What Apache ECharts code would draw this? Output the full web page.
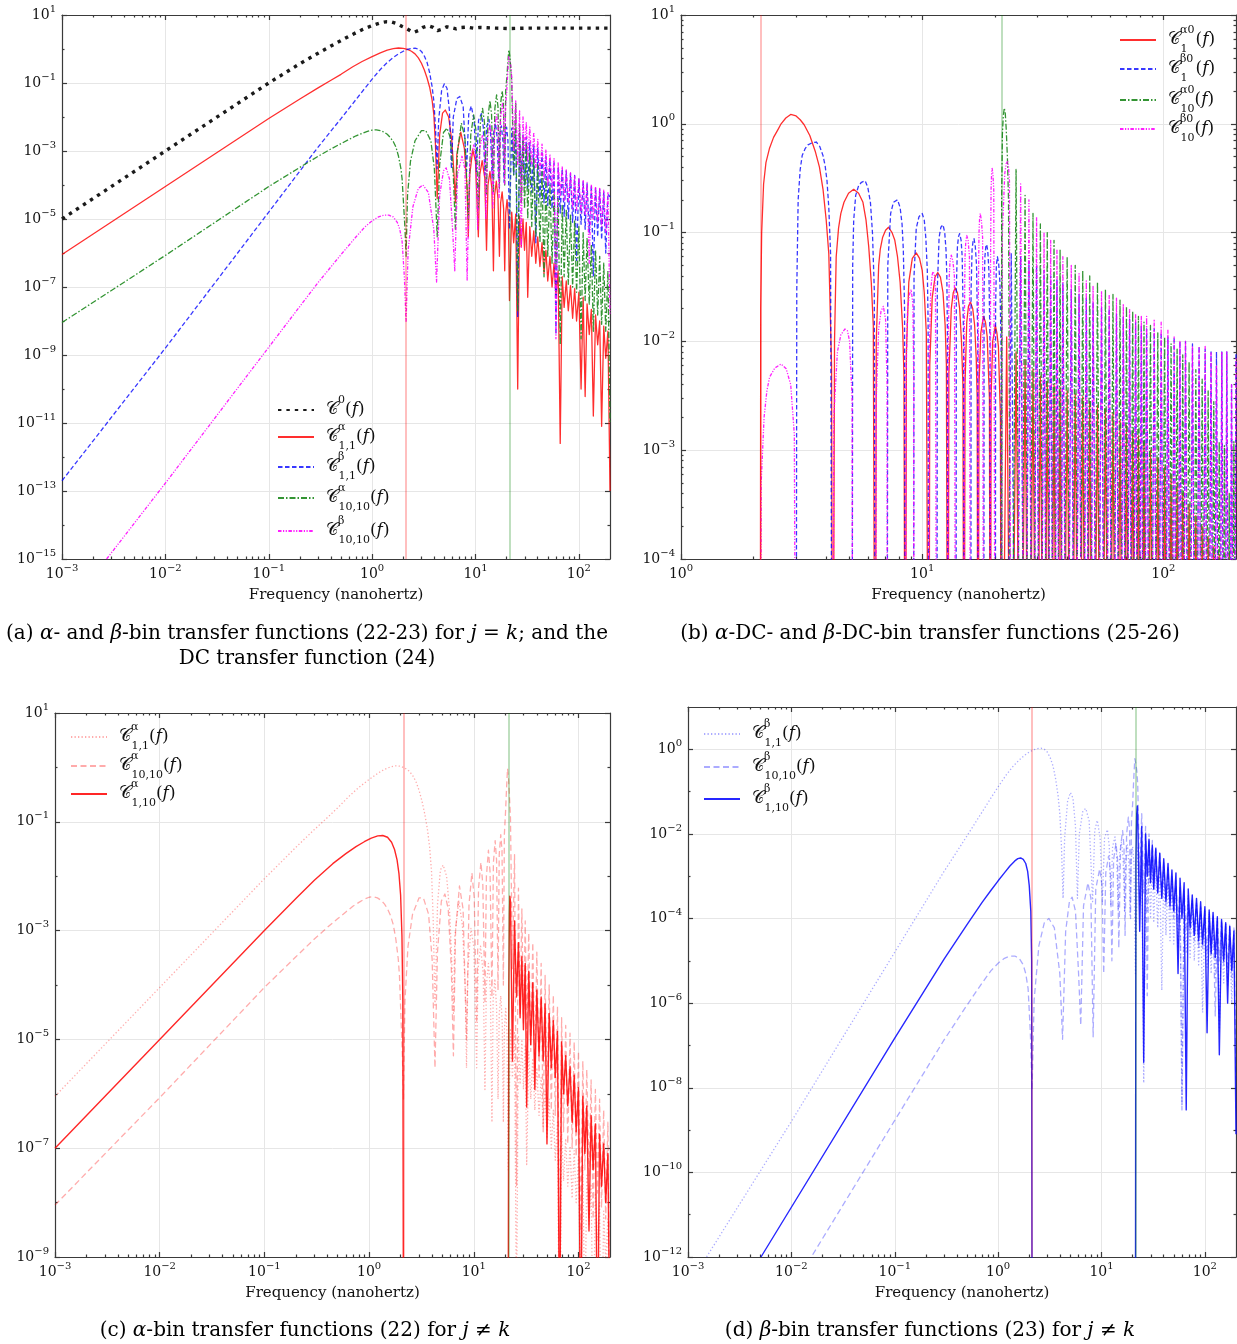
<!DOCTYPE html>
<html><head><meta charset="utf-8"><title>Transfer functions</title>
<script src="https://cdn.jsdelivr.net/npm/echarts@6.0.0/dist/echarts.min.js"></script>
<style>html,body{margin:0;padding:0;background:#fff;}#chart{width:1237px;height:1344px;}</style>
</head><body><div id="chart"></div><script>
// ---------------- DATA (frequency in nHz, value) ----------------
const binF = [2.13, 21.3];               // vertical reference lines
const ZERO = 1e-7;                        // "vanishing" value, below the axis

// Panel (a): DC transfer function
const C0 = [[1e-3,1e-5],[1e-2,1e-3],[0.1,0.1],[0.2,0.37],[0.3,0.75],[0.45,1.5],[0.6,2.4],[0.8,3.7],[1.0,4.9],[1.2,5.9],[1.36,6.3],[1.55,6.2],[1.75,5.5],[1.95,4.6],[2.15,4.0],[2.35,3.4],[2.55,3.1],[2.8,3.5],[3.1,4.3],[3.5,4.8],[3.9,4.3],[4.3,3.5],[4.7,3.8],[5.3,4.5],[5.9,4.2],[6.5,3.9],[7.3,4.3],[8.2,4.4],[9.5,4.1],[11,4.3],[13,4.2],[16,4.1],[21.3,4.0],[30,4.1],[60,4.1],[200,4.1]];

// Panel (a): low-frequency heads and first lobes of each curve
const a11Head = [[1e-3,9e-7],[1e-2,9e-5],[0.1,9e-3],[0.2,0.034],[0.3,0.072],[0.4,0.12],[0.5,0.18],[0.65,0.3],[0.8,0.43],[1.0,0.6],[1.2,0.77],[1.4,0.92],[1.6,1.02],[1.8,1.07],[2.0,1.05],[2.2,0.97],[2.4,0.86],[2.6,0.72],[2.8,0.55],[3.0,0.38],[3.2,0.24],[3.4,0.14],[3.6,0.075],[3.8,0.032],[3.95,0.012],[4.1,1.5e-3]];
const a11Mid = [[4.26,4e-5],[4.5,3e-3],[4.8,0.013],[5.1,0.016],[5.5,0.01],[5.9,2e-3],[6.2,2e-4],[6.39,3e-5],[6.6,8e-4],[7.2,3.6e-3],[7.8,1.2e-3],[8.3,8e-5],[8.52,3e-6],[8.8,2e-4],[9.4,1.1e-3],[10.0,5e-4],[10.65,3e-6],[11.0,2e-4],[11.6,5.2e-4],[12.3,1.6e-4],[12.78,1.2e-6],[13.2,1e-4],[13.8,2.5e-4],[14.4,8e-5],[14.91,3e-7],[15.3,5e-5],[15.9,1.3e-4],[16.5,4e-5],[17.04,8e-7],[17.5,3e-5],[18.1,6.3e-5],[18.7,2e-5],[19.17,3e-7],[19.6,1.5e-5],[20.2,3.7e-5],[20.8,1.2e-5],[21.3,4e-8]];
const b11Head = [[1e-3,2e-13],[1e-2,1.6e-9],[0.1,1.6e-5],[0.3,1.3e-3],[0.5,9e-3],[0.7,0.033],[0.85,0.07],[1.0,0.13],[1.2,0.25],[1.4,0.4],[1.6,0.56],[1.8,0.72],[2.0,0.86],[2.2,0.97],[2.4,1.04],[2.6,1.06],[2.8,1.0],[3.0,0.85],[3.2,0.62],[3.4,0.4],[3.6,0.2],[3.8,0.08],[3.95,0.03],[4.1,5e-3]];
const b11Mid = [[4.25,3e-4],[4.4,8e-3],[4.7,0.06],[5.0,0.095],[5.3,0.07],[5.6,0.015],[5.85,3e-4],[6.1,0.01],[6.6,0.035],[7.05,0.04],[7.6,0.02],[8.2,2.5e-4],[8.6,0.012],[9.1,0.021],[9.7,8e-3],[10.2,2.5e-4],[10.7,8e-3],[11.4,0.0126],[11.9,5e-3],[12.3,2e-4],[12.8,5e-3],[13.5,8.5e-3],[14.0,3e-3],[14.5,1.5e-4],[15.0,3.5e-3],[15.6,6.6e-3],[16.2,2.5e-3],[16.7,1.5e-4],[17.2,3e-3],[17.8,5.5e-3],[18.4,2e-3],[18.9,1.2e-4],[19.4,2.5e-3],[20.0,5e-3],[20.6,2e-3],[21.3,5e-6]];
const a1010Head = [[1e-3,9e-9],[1e-2,8.5e-7],[0.1,9e-5],[0.2,3.3e-4],[0.3,7e-4],[0.4,1.15e-3],[0.5,1.65e-3],[0.6,2.2e-3],[0.7,2.8e-3],[0.8,3.3e-3],[0.9,3.8e-3],[1.0,4.1e-3],[1.1,4.2e-3],[1.2,4.0e-3],[1.3,3.6e-3],[1.4,3.1e-3],[1.5,2.5e-3],[1.6,1.9e-3],[1.7,1.3e-3],[1.8,7e-4],[1.9,3e-4],[1.95,1.5e-4]];
const a1010Mid = [[2.08,5e-6],[2.13,8e-7],[2.2,5e-5],[2.35,5e-4],[2.6,2e-3],[3.0,4e-3],[3.3,4e-3],[3.7,2e-3],[4.0,3e-4],[4.26,3e-6],[4.5,4e-4],[4.9,3.5e-3],[5.3,4.7e-3],[5.7,2.5e-3],[6.1,2e-4],[6.39,5e-6],[6.7,1e-3],[7.3,6.6e-3],[7.9,2.5e-3],[8.52,1e-5],[9.0,3e-3],[9.6,0.0115],[10.1,4e-3],[10.65,2e-5],[11.1,6e-3],[11.7,0.018],[12.2,7e-3],[12.78,5e-5],[13.2,0.01],[13.8,0.03],[14.3,0.012],[14.91,6e-5],[15.4,0.018],[16.0,0.045],[16.5,0.02],[17.04,8e-5],[17.5,0.025],[18.1,0.058],[18.6,0.03],[19.17,1e-4],[19.6,0.06],[20.1,0.15],[20.6,0.45],[21.0,0.95],[21.5,0.6],[22.0,0.25]];
const b1010Head = [[2.7e-3,1e-15],[1e-2,1.7e-13],[0.1,1.7e-9],[0.3,1.35e-7],[0.5,9e-7],[0.7,3e-6],[0.85,5.8e-6],[1.0,8.8e-6],[1.15,1.15e-5],[1.3,1.3e-5],[1.45,1.3e-5],[1.6,1.15e-5],[1.75,8e-6],[1.85,5e-6],[1.95,2.2e-6],[2.05,2e-7]];
const b1010Mid = [[2.13,9e-9],[2.23,1.2e-6],[2.48,2.3e-5],[2.8,8e-5],[3.1,1e-4],[3.5,6e-5],[3.95,5e-6],[4.2,1.4e-7],[4.5,5e-5],[4.9,2.6e-4],[5.2,3.2e-4],[5.6,1.5e-4],[6.0,5e-6],[6.3,3e-7],[6.7,2e-4],[7.4,7e-4],[7.9,3e-4],[8.3,1.6e-7],[8.8,5e-4],[9.6,1.5e-3],[10.1,6e-4],[10.5,5e-6],[11.0,1.2e-3],[11.7,3e-3],[12.2,1.3e-3],[12.6,1e-5],[13.1,2.5e-3],[13.8,6e-3],[14.3,2.5e-3],[14.7,2e-5],[15.3,5e-3],[16.0,0.012],[16.5,5e-3],[16.9,4e-5],[17.5,0.01],[18.2,0.025],[18.7,0.012],[19.1,1e-4],[19.5,0.02],[20.0,0.05],[20.5,0.2],[21.0,0.6],[21.5,0.45],[22.0,0.3]];
// Panels (c), (d): cross terms
const a110Head = [[1e-3,1e-7],[1e-2,1e-5],[0.1,1e-3],[0.2,3.9e-3],[0.3,8.4e-3],[0.45,0.017],[0.6,0.026],[0.75,0.035],[0.9,0.043],[1.05,0.05],[1.21,0.055],[1.35,0.056],[1.5,0.052],[1.64,0.042],[1.75,0.031],[1.85,0.02],[1.93,0.011],[2.0,4.5e-3],[2.06,8e-4]];
const a110Mid = [[2.1,5e-5],[2.13,1e-11],[21.3,1e-11],[21.6,1e-4],[21.9,2e-3],[22.1,4.3e-3]];
const b110Head = [[5.08e-3,1e-12],[1e-2,1.5e-11],[0.1,1.5e-7],[0.3,1.1e-5],[0.5,7.2e-5],[0.7,2.4e-4],[0.85,4.6e-4],[1.0,7.8e-4],[1.15,1.2e-3],[1.3,1.75e-3],[1.45,2.3e-3],[1.55,2.6e-3],[1.65,2.7e-3],[1.75,2.5e-3],[1.85,2.0e-3],[1.93,1.3e-3],[2.0,6e-4],[2.07,1.5e-4]];
const b110Mid = [[2.11,1e-5],[2.13,1e-14],[21.3,1e-14],[21.5,2e-3],[21.9,0.03],[22.2,0.046]];

// Dense high-frequency part of panels (a), (c), (d): knots alternate lobe top / lobe bottom
const aKnots = [22.4,23.4,24.5,25.6,26.7,27.7,28.8,29.8,31,32,33.5,35,36.6,38.3,40,42,44,46,48,50,52.5,55,57.5,60,63,66,69,72,75.5,79,83,87,91,95,100,105,110,115,120,126,132,138,145,152,159,166,174,182,191,200];
const a11D = [1.6e-5,2e-6,1.4e-5,1e-10,1.2e-5,1.5e-6,1e-5,1.2e-6,8e-6,5e-8, 6e-6,8e-7,4.5e-6,5e-7,3e-6,4e-7,2e-6,2.5e-7,1.2e-6,1.5e-7, 8e-7,1e-7,5e-7,6e-8,3e-7,2.5e-12,2e-7,2.5e-8,1.5e-7,2e-8, 1.1e-7,1.2e-8,9e-8,1e-8,7e-8,1e-10,5e-8,6e-11,3.2e-8,4e-9, 2.2e-8,1.6e-11,1.5e-8,2e-9,1e-8,8e-12,7e-9,8e-10,5e-9,1e-13];
const b11D = [4.7e-3,2e-4,4e-3,1.3e-8,3.5e-3,1.5e-4,3e-3,1e-4,2.5e-3,8e-5, 1.8e-3,6e-5,1.5e-3,2e-6,1.2e-3,4e-5,9e-4,3e-5,7e-4,2.5e-5, 5.5e-4,2e-5,4.5e-4,4e-9,3.5e-4,1.5e-5,3e-4,1.2e-5,2.6e-4,1e-5, 2.2e-4,8e-6,1.9e-4,6e-7,1.5e-4,7e-6,1.3e-4,5e-6,1.1e-4,4e-6, 1e-4,2e-7,8.5e-5,3e-6,7.5e-5,2.5e-6,6.5e-5,1e-6,5.5e-5,4.5e-5];
const a1010D = [0.12,2e-4,0.025,2e-8,6e-3,3e-5,2.5e-3,2e-5,1.5e-3,1e-5, 9e-4,6e-6,6e-4,3e-6,4e-4,2e-6,2.5e-4,2e-7,1.5e-4,8e-7, 1e-4,5e-7,6.5e-5,4e-7,4e-5,2e-9,2.5e-5,2e-7,1.8e-5,1.2e-7, 1.3e-5,1e-7,9e-6,7e-8,6e-6,3e-9,4e-6,4e-8,2.8e-6,3e-8, 1.8e-6,5e-9,1.2e-6,1.5e-8,8e-7,8e-9,5e-7,5e-9,3e-7,1e-11];
const b1010D = [0.15,1e-3,0.03,4e-4,0.015,1.5e-6,0.01,8e-4,7e-3,5e-4, 5e-3,4e-4,3.5e-3,3e-4,2.2e-3,2e-4,1.6e-3,1.5e-4,1.1e-3,1e-4, 8e-4,8e-5,6e-4,3e-9,4.5e-4,5e-5,3.5e-4,3.5e-5,2.8e-4,3e-5, 2.3e-4,2e-5,1.9e-4,1.8e-5,1.6e-4,1.5e-5,1.4e-4,1.3e-5,1.2e-4,5e-7, 1.05e-4,1e-5,9e-5,8e-6,8e-5,6e-6,7e-5,4e-6,6e-5,1.5e-8];
const a110D = [3.5e-3,4e-6,1.5e-3,6e-5,6e-4,2.5e-5,3.3e-4,1.5e-5,2.5e-4,5.7e-7, 1.8e-4,8e-6,1.1e-4,1.2e-6,8e-5,5e-6,6e-5,4e-6,4.5e-5,1.2e-7, 3e-5,3e-6,2.2e-5,2e-6,1.4e-5,1e-11,9e-6,1e-6,5e-6,6e-7, 3.2e-6,3e-7,2.2e-6,2e-7,1.3e-6,1e-11,9e-7,8e-8,6e-7,3e-9, 4e-7,4e-8,2.8e-7,1e-11,1.8e-7,2e-8,1.2e-7,1e-8,8e-8,1e-11];
const b110D = [0.03,5e-5,0.015,4e-8,0.01,1e-3,7.5e-3,7e-4,5.5e-3,5e-4, 4.5e-3,4e-4,3.5e-3,3e-4,2.6e-3,2.5e-4,2e-3,2e-4,1.4e-3,1.5e-4, 1.2e-3,5e-6,9e-4,1e-4,7e-4,3e-9,5e-4,6e-5,3.6e-4,4e-5, 3e-4,3e-5,2.5e-4,2.5e-5,1.9e-4,2e-7,1.6e-4,1.5e-5,1.4e-4,1.2e-5, 1.1e-4,6e-8,9.5e-5,1e-5,8e-5,1e-6,6.5e-5,6e-6,5e-5,8e-10];

// Panel (b): first lobes of each DC-bin curve
const a01Pre = [[2.13,1e-7],[2.14,0.02],[2.16,0.1],[2.2,0.28],[2.25,0.44],[2.33,0.6],[2.42,0.75],[2.52,0.88],[2.6,1.0],[2.72,1.13],[2.85,1.22],[3.0,1.18],[3.12,1.09],[3.24,0.98],[3.42,0.78],[3.61,0.55],[3.75,0.4],[3.88,0.25],[4.0,0.13],[4.1,0.064],[4.21,6e-3],[4.26,1e-7],[4.33,0.01],[4.4,0.06],[4.5,0.11],[4.6,0.15],[4.74,0.19],[4.95,0.23],[5.2,0.25],[5.45,0.23],[5.68,0.19],[5.85,0.13],[6.0,0.075],[6.15,0.035],[6.27,0.014],[6.39,1e-7],[6.45,0.01],[6.6,0.05],[6.7,0.07],[6.85,0.09],[7.05,0.105],[7.25,0.112],[7.5,0.1],[7.7,0.085],[7.9,0.06],[8.1,0.035],[8.3,0.013],[8.4,5e-3],[8.52,1e-7],[8.6,8e-3],[8.8,0.035],[9.1,0.058],[9.45,0.065],[9.75,0.058],[10.0,0.045],[10.2,0.028],[10.4,0.012],[10.65,1e-7],[10.75,6e-3],[11.0,0.025],[11.3,0.039],[11.6,0.043],[11.9,0.039],[12.2,0.028],[12.45,0.014],[12.6,6e-3],[12.78,1e-7],[12.9,5e-3],[13.2,0.02],[13.45,0.028],[13.7,0.031],[14.0,0.028],[14.3,0.02],[14.55,0.01],[14.75,4e-3],[14.91,1e-7],[15.05,4e-3],[15.3,0.015],[15.55,0.021],[15.85,0.023],[16.2,0.02],[16.5,0.014],[16.75,7e-3],[16.9,3e-3],[17.04,1e-7],[17.2,4e-3],[17.5,0.012],[17.95,0.017],[18.3,0.015],[18.6,0.011],[19.0,3e-3],[19.17,1e-7],[19.3,3e-3],[19.6,0.01],[20.1,0.014],[20.4,0.012],[20.7,9e-3],[21.1,2e-3]];
const b01Pre = [[3.0,1e-7],[3.02,0.03],[3.06,0.2],[3.12,0.38],[3.18,0.51],[3.27,0.59],[3.36,0.64],[3.5,0.67],[3.64,0.68],[3.76,0.62],[3.88,0.51],[3.96,0.41],[4.03,0.3],[4.1,0.17],[4.17,0.064],[4.24,1e-7],[5.12,1e-7],[5.15,0.05],[5.2,0.13],[5.3,0.22],[5.45,0.27],[5.6,0.29],[5.8,0.3],[5.95,0.26],[6.1,0.19],[6.22,0.1],[6.33,0.03],[6.4,1e-7],[7.15,1e-7],[7.2,0.05],[7.4,0.15],[7.6,0.19],[7.9,0.2],[8.1,0.17],[8.25,0.12],[8.35,0.07],[8.45,0.02],[8.52,1e-7],[9.2,1e-7],[9.25,0.04],[9.45,0.11],[9.7,0.14],[10.0,0.15],[10.2,0.13],[10.35,0.09],[10.5,0.045],[10.58,0.015],[10.65,1e-7],[11.5,1e-7],[11.55,0.03],[11.75,0.09],[11.95,0.112],[12.2,0.118],[12.4,0.1],[12.55,0.07],[12.65,0.04],[12.72,0.012],[12.78,1e-7],[13.8,1e-7],[13.85,0.03],[14.0,0.075],[14.15,0.092],[14.3,0.098],[14.5,0.085],[14.65,0.06],[14.85,0.01],[14.91,1e-7],[15.9,1e-7],[15.95,0.03],[16.1,0.07],[16.25,0.083],[16.4,0.088],[16.6,0.075],[16.8,0.05],[17.0,0.01],[17.04,1e-7],[18.0,1e-7],[18.05,0.03],[18.2,0.06],[18.35,0.074],[18.5,0.078],[18.7,0.068],[18.9,0.045],[19.1,0.01],[19.17,1e-7],[20.1,1e-7],[20.15,0.02],[20.3,0.05],[20.5,0.06],[20.75,0.052],[21.0,0.035],[21.25,8e-3],[21.3,1e-7]];
const a010Pre = [[21.3,1e-7],[21.35,0.2],[21.5,0.8],[21.7,1.2],[21.9,1.4],[22.1,1.25],[22.3,0.9],[22.55,0.5],[22.8,0.2]];
const b010Pre = [[2.13,1e-7],[2.15,5e-4],[2.21,2e-3],[2.27,3.5e-3],[2.33,4.7e-3],[2.45,5.7e-3],[2.6,6.2e-3],[2.73,5.6e-3],[2.85,4e-3],[2.95,1.4e-3],[3.0,1e-7],[4.25,1e-7],[4.3,2e-3],[4.45,8e-3],[4.6,0.0115],[4.78,0.013],[4.9,0.0125],[5.0,0.01],[5.12,3e-3],[5.15,1e-7],[6.4,1e-7],[6.45,3e-3],[6.6,0.013],[6.75,0.019],[6.9,0.021],[7.05,0.016],[7.15,4e-3],[7.17,1e-7],[8.52,1e-7],[8.57,5e-3],[8.7,0.02],[8.85,0.027],[9.0,0.03],[9.15,0.022],[9.22,5e-3],[9.25,1e-7],[10.65,1e-7],[10.7,8e-3],[10.85,0.03],[11.0,0.041],[11.1,0.044],[11.25,0.04],[11.35,0.03],[11.5,1e-7],[12.78,1e-7],[12.83,0.01],[12.95,0.04],[13.05,0.055],[13.2,0.062],[13.4,0.055],[13.6,0.04],[13.8,1e-7],[14.91,1e-7],[14.96,0.015],[15.05,0.06],[15.15,0.08],[15.3,0.094],[15.5,0.085],[15.7,0.06],[15.9,1e-7],[17.04,1e-7],[17.1,0.03],[17.2,0.1],[17.3,0.135],[17.4,0.15],[17.6,0.13],[17.8,0.09],[18.0,1e-7],[19.17,1e-7],[19.2,0.05],[19.3,0.25],[19.4,0.35],[19.5,0.39],[19.65,0.34],[19.8,0.25],[20.1,1e-7],[21.3,1e-7],[21.5,0.1],[22.0,0.35],[22.3,0.43],[22.6,0.45],[22.8,0.4],[23.0,0.3],[23.4,1e-7]];
// Panel (b): dense lobes; knots alternate between lobe nulls and lobe peaks
const bKnots = [21.3,22.4,23.4,24.5,25.6,26.7,27.7,28.8,29.8,30.9,32.0,33.0,34.1,35.2,36.2,37.3,38.3,39.9,41.5,43.1,44.7,46.3,47.9,49.5,51.1,53.3,55.4,57.5,59.6,61.8,63.9,66.1,68.2,70.3,72.4,74.6,76.7,78.8,81,83.1,85.2,88.4,91.6,94.8,97.9,101.2,104.4,107.6,110.8,114,117.1,120.3,123.5,127.8,132,136.3,140.6,144.8,149,153.3,157.6,161.8,166,170.4,174.7,179,183.2,187.5,191.7,196,200];
const a01Peaks = [0.011,8e-3,6.8e-3,5.6e-3,4.8e-3,4.3e-3,4e-3,3.8e-3,3.5e-3,3.3e-3, 3.1e-3,2.8e-3,2.6e-3,2.4e-3,2.2e-3,1.9e-3,1.7e-3,1.5e-3,1.35e-3,1.2e-3, 1e-3,8.5e-4,7e-4,6e-4,5e-4,4e-4,3.2e-4,2.5e-4,2e-4,1.6e-4, 1.3e-4,1.1e-4,9e-5,1.15e-4,8e-5];
const a010Peaks = [0.38,0.22,0.15,0.12,0.1,0.085,0.07,0.06,0.05,0.045, 0.04,0.035,0.03,0.027,0.024,0.021,0.019,0.017,0.015,0.014, 0.012,0.011,9.5e-3,8.5e-3,7.5e-3,6.5e-3,5.5e-3,4.5e-3,3.5e-3,2.8e-3, 1.2e-3,1.1e-3,4e-4,1.2e-3];
const b01Peaks = [0.065,0.06,0.055,0.05,0.045,0.04,0.037,0.034,0.03,0.027, 0.025,0.023,0.021,0.02,0.018,0.017,0.016,0.015,0.014,0.013, 0.013,0.012,0.011,0.011,0.01,0.01,9.5e-3,9e-3,8.5e-3,8e-3, 8e-3,8e-3,8e-3,4e-3,8e-3];
const b010Peaks = [0.28,0.2,0.14,0.1,0.085,0.07,0.06,0.05,0.042,0.036, 0.032,0.029,0.027,0.025,0.022,0.02,0.018,0.017,0.017,0.016, 0.015,0.013,0.011,0.01,0.01,9e-3,9e-3,9e-3,8e-3,6e-3, 8e-3,8e-3,4e-3,7e-3];

// ---------------- helpers ----------------
const L = v => Math.log10(v);
const toXY = arr => arr.map(p => [L(p[0]), L(p[1])]);
const zig = vals => aKnots.map((f, i) => [f, vals[i]]);
function lobes(start, peaks) {
  const out = []; let k = 0;
  for (let i = start; i < bKnots.length; i++) {
    if ((i - start) % 2 === 1) { if (k >= peaks.length) break; out.push([bKnots[i], peaks[k++]]); }
    else out.push([bKnots[i], ZERO]);
  }
  return out;
}
const FONT = "'DejaVu Serif', 'DejaVu Sans', serif";
const INK = '#111';
const AX = {color: '#3a3a3a', width: 1.2};
const GRIDC = '#e6e6e6';

const RED = 'rgba(255,0,0,0.82)', BLUE = 'rgba(0,0,255,0.78)', GREEN = 'rgba(34,139,34,0.92)', MAG = 'rgba(255,0,255,0.88)';
const LRED = 'rgba(255,0,0,0.33)', LBLUE = 'rgba(0,0,255,0.33)';
const DASH = [4.5, 2.5], DASHDOT = [6, 2, 1.5, 2], DDOT = [3.5, 1.5, 1.2, 1.5, 1.2, 1.5], DOT = [3.4, 5], FDOT = [1.3, 2.2], LDASH = [6, 3.5];

const grids = [
  {left: 62, top: 15, width: 548, height: 544},
  {left: 681, top: 15, width: 555, height: 544},
  {left: 55, top: 713, width: 555, height: 544},
  {left: 688, top: 707, width: 548, height: 550}
];
const xr = [[-3, L(200)], [0, L(200)], [-3, L(200)], [-3, L(200)]];
const yr = [[-15, 1], [-4, 1], [-9, 1], [-12, 1]];
const range = (a, b, s) => { const o = []; for (let v = a; v <= b + 1e-9; v += s) o.push(v); return o; };
const xMaj = [range(-3, 2, 1), range(0, 2, 1), range(-3, 2, 1), range(-3, 2, 1)];
const yMaj = [range(-15, 1, 2), range(-4, 1, 1), range(-9, 1, 2), range(-12, 0, 2)];
function logMinors(lo, hi) {
  const o = [];
  for (let n = Math.floor(lo); n <= Math.ceil(hi); n++) for (let k = 2; k <= 9; k++) { const v = n + L(k); if (v > lo + 1e-9 && v < hi - 1e-9) o.push(v); }
  return o;
}
const xMin = xr.map(r => logMinors(r[0], r[1]));
const yMin = [range(-14, 0, 2), logMinors(-4, 1), range(-8, 0, 2), range(-11, -1, 2)];

const TR = {
  b: {fontFamily: FONT, fontSize: 14, lineHeight: 22, color: INK},
  e: {fontFamily: FONT, fontSize: 10, lineHeight: 16, verticalAlign: 'top', color: INK}
};
const fmt = v => { const r = Math.round(v); return '{b|10}{e|' + String(r).replace('-', '\u2212') + '}'; };

const xAxis = [], yAxis = [];
grids.forEach((g, i) => {
  const bx = {type: 'value', gridIndex: i, min: xr[i][0], max: xr[i][1]};
  const by = {type: 'value', gridIndex: i, min: yr[i][0], max: yr[i][1]};
  xAxis.push(Object.assign({}, bx, {position: 'bottom', axisLine: {show: true, onZero: false, lineStyle: AX},
    axisTick: {show: true, inside: true, length: 5, lineStyle: AX, customValues: xMaj[i]},
    axisLabel: {show: true, customValues: xMaj[i], formatter: fmt, rich: TR, margin: 4},
    splitLine: {show: true, lineStyle: {color: GRIDC, width: 1}},
    name: 'Frequency (nanohertz)', nameLocation: 'middle', nameGap: 29,
    nameTextStyle: {fontFamily: FONT, fontSize: 15, color: INK}}));
  xAxis.push(Object.assign({}, bx, {position: 'top', axisLine: {show: true, onZero: false, lineStyle: AX},
    axisTick: {show: true, inside: true, length: 5, lineStyle: AX, customValues: xMaj[i]},
    axisLabel: {show: false}, splitLine: {show: false}}));
  ['bottom', 'top'].forEach(p => xAxis.push(Object.assign({}, bx, {position: p, axisLine: {show: false, onZero: false},
    axisTick: {show: true, inside: true, length: 2.5, lineStyle: AX, customValues: xMin[i]},
    axisLabel: {show: false}, splitLine: {show: false}})));
  yAxis.push(Object.assign({}, by, {position: 'left', axisLine: {show: true, onZero: false, lineStyle: AX},
    axisTick: {show: true, inside: true, length: 5, lineStyle: AX, customValues: yMaj[i]},
    axisLabel: {show: true, customValues: yMaj[i], formatter: fmt, rich: TR, margin: 6},
    splitLine: {show: true, lineStyle: {color: GRIDC, width: 1}}}));
  yAxis.push(Object.assign({}, by, {position: 'right', axisLine: {show: true, onZero: false, lineStyle: AX},
    axisTick: {show: true, inside: true, length: 5, lineStyle: AX, customValues: yMaj[i]},
    axisLabel: {show: false}, splitLine: {show: false}}));
  ['left', 'right'].forEach(p => yAxis.push(Object.assign({}, by, {position: p, axisLine: {show: false, onZero: false},
    axisTick: {show: true, inside: true, length: 2.5, lineStyle: AX, customValues: yMin[i]},
    axisLabel: {show: false}, splitLine: {show: false}})));
});

function S(name, g, pts, color, width, dash, extra) {
  return Object.assign({
    name, type: 'line', xAxisIndex: 4 * g, yAxisIndex: 4 * g, data: toXY(pts),
    symbol: 'none', showSymbol: false, silent: true, animation: false, clip: true,
    itemStyle: {color: color},
    lineStyle: {color, width, type: dash || 'solid', cap: 'butt', join: 'round'}
  }, extra || {});
}
const vlines = {
  silent: true, symbol: ['none', 'none'], animation: false, label: {show: false},
  data: [
    {xAxis: L(binF[0]), lineStyle: {color: 'rgba(255,0,0,0.25)', width: 2, type: 'solid'}},
    {xAxis: L(binF[1]), lineStyle: {color: 'rgba(0,128,0,0.25)', width: 2, type: 'solid'}}
  ]
};

const series = [
  // (a)
  S('C0', 0, C0, '#1a1a1a', 3.4, DOT, {markLine: vlines}),
  S('a11', 0, a11Head.concat(a11Mid, zig(a11D)), RED, 1.3),
  S('b11', 0, b11Head.concat(b11Mid, zig(b11D)), BLUE, 1.3, DASH),
  S('a1010', 0, a1010Head.concat(a1010Mid, zig(a1010D)), GREEN, 1.3, DASHDOT),
  S('b1010', 0, b1010Head.concat(b1010Mid, zig(b1010D)), MAG, 1.3, DDOT),
  // (b)
  S('a01', 1, a01Pre.concat(lobes(0, a01Peaks)), RED, 1.3, null, {markLine: vlines}),
  S('b01', 1, b01Pre.concat(lobes(1, b01Peaks)), BLUE, 1.3, DASH),
  S('a010', 1, a010Pre.concat(lobes(2, a010Peaks)), GREEN, 1.3, DASHDOT),
  S('b010', 1, b010Pre.concat(lobes(3, b010Peaks)), MAG, 1.3, DDOT),
  // (c)
  S('a11c', 2, a11Head.concat(a11Mid, zig(a11D)), LRED, 1.3, FDOT, {markLine: vlines}),
  S('a1010c', 2, a1010Head.concat(a1010Mid, zig(a1010D)), LRED, 1.3, LDASH),
  S('a110', 2, a110Head.concat(a110Mid, zig(a110D)), 'rgba(255,0,0,0.85)', 1.4),
  // (d)
  S('b11d', 3, b11Head.concat(b11Mid, zig(b11D)), LBLUE, 1.3, FDOT, {markLine: vlines}),
  S('b1010d', 3, b1010Head.concat(b1010Mid, zig(b1010D)), LBLUE, 1.3, LDASH),
  S('b110', 3, b110Head.concat(b110Mid, zig(b110D)), 'rgba(0,0,255,0.85)', 1.4)
];

// ---------------- legends ----------------
const CC = '\uD835\uDC9E'; // script capital C
const LG = {
  g: {width: 7},
  c: {fontFamily: FONT, fontSize: 17, lineHeight: 30, color: INK},
  t: {fontFamily: FONT, fontSize: 17, lineHeight: 30, color: INK},
  i: {fontFamily: FONT, fontSize: 17, lineHeight: 30, fontStyle: 'italic', color: INK},
  s0: {fontFamily: FONT, fontSize: 11, lineHeight: 20, verticalAlign: 'top', color: INK},
  sp: {fontFamily: FONT, fontSize: 11, lineHeight: 20, verticalAlign: 'top', width: 0.5, color: INK},
  sb: {fontFamily: FONT, fontSize: 11, lineHeight: 18, verticalAlign: 'bottom', color: INK},
  sbw: {fontFamily: FONT, fontSize: 11, lineHeight: 18, verticalAlign: 'bottom', width: 15, color: INK}
};
const lab = (sup, sub, wide) => '{g| }{c|' + CC + '}' + (sub ? '{sp|' + sup + '}{' + (wide ? 'sbw' : 'sb') + '|' + sub + '}' : '{s0|' + sup + '}') + '{t|(}{i|f}{t|)}';
const LAB = {
  C0: lab('0'), a11: lab('α', '1,1'), b11: lab('β', '1,1'), a1010: lab('α', '10,10'), b1010: lab('β', '10,10'),
  a01: lab('α0', '1', true), b01: lab('β0', '1', true), a010: lab('α0', '10'), b010: lab('β0', '10'),
  a11c: lab('α', '1,1'), a1010c: lab('α', '10,10'), a110: lab('α', '1,10'),
  b11d: lab('β', '1,1'), b1010d: lab('β', '10,10'), b110: lab('β', '1,10')
};
const legendPos = [
  ['C0', 277, 410], ['a11', 277, 437], ['b11', 277, 467], ['a1010', 277, 498], ['b1010', 277, 531],
  ['a01', 1119, 40], ['b01', 1119, 69], ['a010', 1119, 100], ['b010', 1119, 129],
  ['a11c', 70, 737], ['a1010c', 70, 766], ['a110', 70, 794],
  ['b11d', 703, 734], ['b1010d', 703, 767], ['b110', 703, 799]
];
const legend = legendPos.map(([n, x, yc]) => ({
  data: [n], left: x, top: yc - 15, padding: 0, itemGap: 0, itemWidth: 36, itemHeight: 10,
  selectedMode: false, formatter: nm => LAB[nm],
  itemStyle: {opacity: 0, borderWidth: 0},
  textStyle: {fontFamily: FONT, fontSize: 17, color: INK, rich: LG}
}));

// ---------------- captions ----------------
const CAP = {
  i: {fontFamily: FONT, fontSize: 20, fontStyle: 'italic', color: '#000'},
  r: {fontFamily: FONT, fontSize: 20, color: '#ff0000'}
};
const cap = (x, y, text) => ({type: 'text', x, y, silent: true, style: {text, fontFamily: FONT, fontSize: 20, fill: '#000', align: 'center', verticalAlign: 'top', lineHeight: 25, rich: CAP}});
const graphic = [
  cap(307, 621, '(a) {i|α}- and {i|β}-bin transfer functions ({r|22}-{r|23}) for {i|j} = {i|k}; and the\nDC transfer function ({r|24})'),
  cap(930, 621, '(b) {i|α}-DC- and {i|β}-DC-bin transfer functions ({r|25}-{r|26})'),
  cap(305, 1318, '(c) {i|α}-bin transfer functions ({r|22}) for {i|j} \u2260 {i|k}'),
  cap(930, 1318, '(d) {i|β}-bin transfer functions ({r|23}) for {i|j} \u2260 {i|k}')
];

const option = {
  animation: false, backgroundColor: '#fff',
  textStyle: {fontFamily: FONT},
  grid: grids.map(g => Object.assign({show: false, containLabel: false, outerBoundsMode: 'none'}, g)),
  xAxis, yAxis, series, legend, graphic
};
const chart = echarts.init(document.getElementById('chart'), null, {renderer: 'canvas'});
chart.setOption(option);
</script></body></html>
